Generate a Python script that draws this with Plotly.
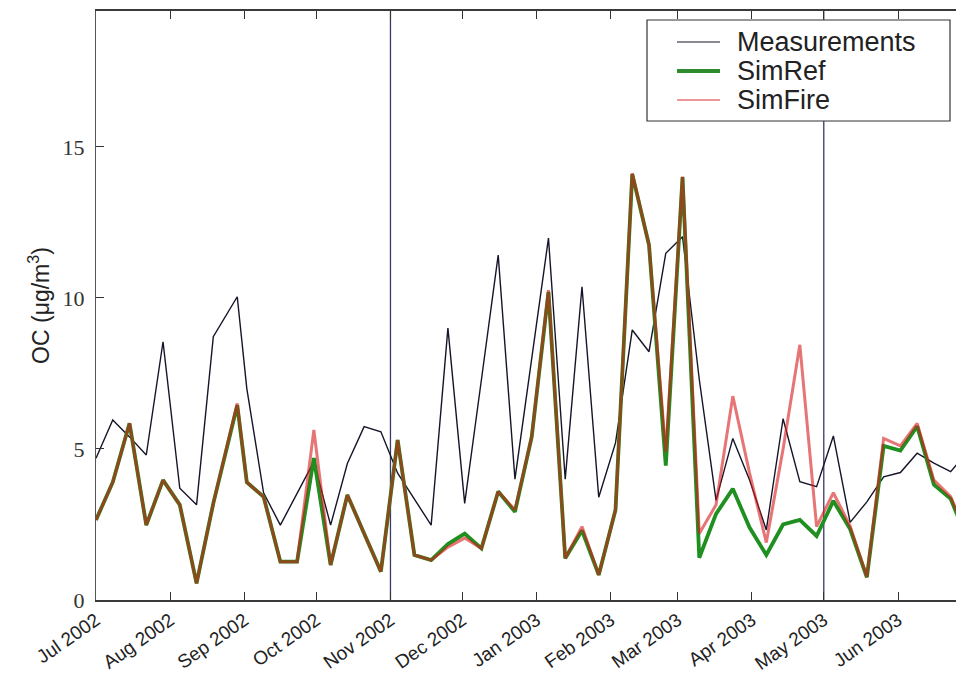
import plotly.graph_objects as go

dates = [
    "2002-07-01", "2002-07-08", "2002-07-15", "2002-07-22", "2002-07-29",
    "2002-08-05", "2002-08-12", "2002-08-19", "2002-08-29",
    "2002-09-02", "2002-09-09", "2002-09-16", "2002-09-23", "2002-09-30",
    "2002-10-07", "2002-10-14", "2002-10-21", "2002-10-28",
    "2002-11-04", "2002-11-11", "2002-11-18", "2002-11-25",
    "2002-12-02", "2002-12-09", "2002-12-16", "2002-12-23", "2002-12-30",
    "2003-01-06", "2003-01-13", "2003-01-20", "2003-01-27",
    "2003-02-03", "2003-02-10", "2003-02-17", "2003-02-24",
    "2003-03-03", "2003-03-10", "2003-03-17", "2003-03-24", "2003-03-31",
    "2003-04-07", "2003-04-14", "2003-04-21", "2003-04-28",
    "2003-05-05", "2003-05-12", "2003-05-19", "2003-05-26",
    "2003-06-02", "2003-06-09", "2003-06-16", "2003-06-23", "2003-06-30",
]

measurements = [
    4.69, 5.96, 5.40, 4.80, 8.55,
    3.70, 3.15, 8.72, 10.04,
    7.00, 3.55, 2.48, 3.53, 4.58,
    2.48, 4.52, 5.74, 5.57,
    4.20, 3.35, 2.48, 9.00,
    3.20, 7.30, 11.42, 4.00, 8.00,
    11.98, 4.00, 10.37, 3.40,
    5.20, 8.94, 8.22, 11.48,
    12.03, 7.30, 3.30, 5.35, 3.97,
    2.32, 6.00, 3.92, 3.75,
    5.43, 2.57, 3.25, 4.08,
    4.22, 4.86, 4.53, 4.25, 4.90,
]

sim_ref = [
    2.65, 3.90, 5.85, 2.48, 3.97,
    3.15, 0.55, 3.20, 6.45,
    3.90, 3.42, 1.27, 1.27, 4.70,
    1.16, 3.48, 2.20, 0.94,
    5.30, 1.49, 1.32, 1.85,
    2.20, 1.71, 3.59, 2.92, 5.40,
    10.20, 1.38, 2.30, 0.83,
    2.98, 14.10, 11.75, 4.45,
    14.00, 1.40, 2.85, 3.68, 2.40,
    1.49, 2.50, 2.65, 2.12,
    3.28, 2.35, 0.75, 5.10,
    4.95, 5.75, 3.82, 3.35, 2.00,
]

sim_fire = [
    2.65, 3.90, 5.85, 2.48, 3.97,
    3.15, 0.55, 3.20, 6.51,
    3.90, 3.42, 1.27, 1.27, 5.63,
    1.16, 3.48, 2.20, 0.94,
    5.30, 1.49, 1.32, 1.75,
    2.05, 1.71, 3.59, 2.98, 5.40,
    10.26, 1.38, 2.43, 0.83,
    2.98, 14.13, 11.75, 4.90,
    14.02, 2.20, 3.15, 6.75, 4.20,
    1.90, 5.00, 8.45, 2.43,
    3.55, 2.45, 0.77, 5.35,
    5.10, 5.85, 3.97, 3.42, 2.10,
]

marker_dates = ["2002-11-01", "2003-05-01"]

tick_vals = [
    "2002-07-01", "2002-08-01", "2002-09-01", "2002-10-01", "2002-11-01",
    "2002-12-01", "2003-01-01", "2003-02-01", "2003-03-01", "2003-04-01",
    "2003-05-01", "2003-06-01",
]
tick_text = [
    "Jul 2002", "Aug 2002", "Sep 2002", "Oct 2002", "Nov 2002", "Dec 2002",
    "Jan 2003", "Feb 2003", "Mar 2003", "Apr 2003", "May 2003", "Jun 2003",
]

series_names = ["Measurements", "SimRef", "SimFire"]
series_lines = [
    dict(color="#15152a", width=1.4),
    dict(color="#1f8f1f", width=3.8),
    dict(color="rgba(215,25,25,0.6)", width=3.0),
]

fig = go.Figure()
for name, ys, ln in zip(series_names, [measurements, sim_ref, sim_fire], series_lines):
    fig.add_trace(go.Scatter(x=dates, y=ys, mode="lines", name=name, line=ln,
                             showlegend=False))

for d in marker_dates:
    fig.add_vline(x=d, line=dict(color="#3a3a66", width=1.3), layer="below")

# legend box (drawn in paper coordinates)
L, B, W, H = 96.0, 600.0, 860.0, 589.0
def px(xp):
    return (xp - L) / W
def py(yp):
    return (B - yp) / H

fig.add_shape(type="rect", xref="paper", yref="paper",
              x0=px(647), x1=px(950), y0=py(121), y1=py(20),
              line=dict(color="#333333", width=1.2), fillcolor="white", layer="above")
legend_lines = [
    dict(color="#15152a", width=1.2),
    dict(color="#2e8b2e", width=3.8),
    dict(color="rgba(215,25,25,0.6)", width=1.6),
]
row_y = [42, 71, 100]
for name, ln, ry in zip(series_names, legend_lines, row_y):
    fig.add_shape(type="line", xref="paper", yref="paper",
                  x0=px(677), x1=px(720), y0=py(ry), y1=py(ry),
                  line=ln, layer="above")
    fig.add_annotation(text=name, xref="paper", yref="paper",
                       x=px(735), y=py(ry), xanchor="left", yanchor="middle",
                       showarrow=False,
                       font=dict(family="Liberation Sans", size=27, color="#222222"))

fig.update_layout(
    width=956, height=674, autosize=False,
    margin=dict(l=96, r=0, t=11, b=74),
    paper_bgcolor="white", plot_bgcolor="white",
    showlegend=False,
    xaxis=dict(
        range=["2002-07-01", "2003-06-25 05:30"], automargin=False,
        tickvals=tick_vals, ticktext=tick_text, tickangle=-35,
        ticks="inside", ticklen=8, tickcolor="#333333",
        showline=True, linecolor="#3a3a3a", linewidth=1.6, mirror="ticks",
        showgrid=False, zeroline=False,
        tickfont=dict(family="Liberation Sans", size=19, color="#222222"),
    ),
    yaxis=dict(
        range=[0, 19.5], tickvals=[0, 5, 10, 15], automargin=False,
        ticks="inside", ticklen=8, tickcolor="#333333",
        showline=True, linecolor="#555555", linewidth=1.4, mirror=False,
        showgrid=False, zeroline=False, ticklabelstandoff=6,
        tickfont=dict(family="Liberation Serif", size=22, color="#333333"),
        title=dict(text="OC (\u03bcg/m<sup>3</sup>)", standoff=6,
                   font=dict(family="Liberation Sans", size=23, color="#222222")),
    ),
)

fig.write_html("out.html")
